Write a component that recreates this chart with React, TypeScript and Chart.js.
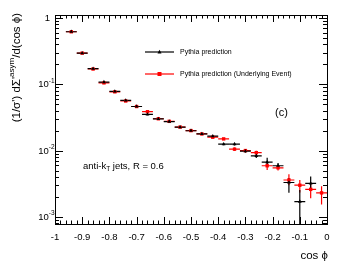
import React, { useEffect, useRef } from 'react';
import { Chart, registerables } from 'chart.js';

Chart.register(...registerables);

// ---------- data ----------
const cosPhi = [-0.94, -0.9, -0.86, -0.82, -0.78, -0.74, -0.7, -0.66, -0.62, -0.58, -0.54, -0.5,
  -0.46, -0.42, -0.38, -0.34, -0.3, -0.26, -0.22, -0.18, -0.14, -0.1, -0.06, -0.02];
const binHalfWidth = 0.02;

const pythia = [0.62, 0.295, 0.172, 0.108, 0.078, 0.057, 0.0462, 0.0352, 0.03, 0.0274, 0.0226, 0.0199,
  0.0178, 0.0165, 0.0125, 0.0125, 0.0098, 0.0083, 0.0067, 0.0059, 0.0033, 0.0017, 0.0032, null];
const pythiaErrLow = [0.012, 0.006, 0.004, 0.0025, 0.0015, 0.0012, 0.001, 0.0012, 0.0008, 0.0007, 0.0006, 0.0005,
  0.0005, 0.0005, 0.0005, 0.0006, 0.0005, 0.0006, 0.0008, 0.0006, 0.001, 0.0015, 0.00066, 0];
const pythiaErrHigh = [0.012, 0.006, 0.004, 0.0025, 0.0015, 0.0012, 0.001, 0.0012, 0.0008, 0.0007, 0.0006, 0.0005,
  0.0005, 0.0005, 0.0005, 0.0006, 0.0005, 0.0006, 0.0011, 0.0006, 0.00056, 0.00085, 0.00086, 0];

const pythiaUE = [0.62, 0.295, 0.17, 0.105, 0.077, 0.056, 0.0462, 0.0386, 0.0302, 0.0276, 0.0226, 0.02,
  0.0178, 0.0159, 0.015, 0.0105, 0.01, 0.0093, 0.0059, 0.0055, 0.0036, 0.003, 0.0026, 0.0023];
const pythiaUEErrLow = [0.012, 0.006, 0.004, 0.0025, 0.0015, 0.0012, 0.001, 0.0012, 0.0008, 0.0007, 0.0006, 0.0005,
  0.0005, 0.0005, 0.0005, 0.0006, 0.0005, 0.0006, 0.0008, 0.0005, 0.00059, 0.00066, 0.0007, 0.00077];
const pythiaUEErrHigh = [0.012, 0.006, 0.004, 0.0025, 0.0015, 0.0012, 0.001, 0.0012, 0.0008, 0.0007, 0.0006, 0.0005,
  0.0005, 0.0005, 0.0005, 0.0006, 0.0005, 0.0006, 0.0007, 0.0005, 0.0008, 0.0006, 0.0007, 0.00059];

const xMajorTicks = [-1, -0.9, -0.8, -0.7, -0.6, -0.5, -0.4, -0.3, -0.2, -0.1, 0];
const xTickLabels = ['-1', '-0.9', '-0.8', '-0.7', '-0.6', '-0.5', '-0.4', '-0.3', '-0.2', '-0.1', '0'];
const yDecades = [1, 0.1, 0.01, 0.001];
const yTickBases = ['1', '10', '10', '10'];
const yTickExps = ['', '-1', '-2', '-3'];

const seriesLabels = ['Pythia prediction', 'Pythia prediction (Underlying Event)'];
const seriesColors = ['#000000', '#ff0000'];
const xTitle = 'cos \u03d5';
const yTitleParts = ["(1/\u03c3') d\u03a3'", 'asym', '/d(cos \u03d5)'];
const panelLabel = '(c)';
const jetLabelParts = ['anti-k', 'T', ' jets, R = 0.6'];

const FONT = 'Liberation Sans, Arial, Helvetica, sans-serif';

function drawErrors(chart: any, vals: any[], lo: number[], hi: number[], color: string) {
  const { ctx, scales } = chart;
  const x = scales.x, y = scales.y;
  ctx.strokeStyle = color;
  ctx.lineWidth = 1.2;
  for (let i = 0; i < cosPhi.length; i++) {
    const v = vals[i];
    if (v == null) continue;
    const px = x.getPixelForValue(cosPhi[i]);
    const py = y.getPixelForValue(v);
    const x0 = x.getPixelForValue(cosPhi[i] - binHalfWidth);
    const x1 = x.getPixelForValue(cosPhi[i] + binHalfWidth);
    const lowV = Math.max(v - lo[i], 1e-6);
    const y0 = y.getPixelForValue(lowV);
    const y1 = y.getPixelForValue(v + hi[i]);
    ctx.beginPath();
    ctx.moveTo(x0, py); ctx.lineTo(x1, py);
    ctx.moveTo(px, y0); ctx.lineTo(px, y1);
    ctx.stroke();
  }
}

const rootPlugin = {
  id: 'rootStyle',
  beforeDatasetsDraw(chart: any) {
    const { ctx, chartArea: a } = chart;
    ctx.save();
    ctx.beginPath();
    ctx.rect(a.left, a.top, a.right - a.left, a.bottom - a.top);
    ctx.clip();
    drawErrors(chart, pythiaUE, pythiaUEErrLow, pythiaUEErrHigh, seriesColors[1]);
    drawErrors(chart, pythia, pythiaErrLow, pythiaErrHigh, seriesColors[0]);
    ctx.restore();
  },
  afterDraw(chart: any) {
    const { ctx, chartArea: a, scales } = chart;
    const x = scales.x, y = scales.y;
    ctx.save();
    ctx.strokeStyle = '#000';
    ctx.fillStyle = '#000';
    ctx.lineWidth = 1;
    // frame
    ctx.strokeRect(Math.round(a.left) + 0.5, Math.round(a.top) + 0.5, Math.round(a.right - a.left), Math.round(a.bottom - a.top));
    // x ticks
    ctx.beginPath();
    for (let k = 0; k <= 50; k++) {
      const v = -1 + k * 0.02;
      const px = Math.round(x.getPixelForValue(v)) + 0.5;
      const len = k % 5 === 0 ? 7 : 3.5;
      ctx.moveTo(px, a.bottom); ctx.lineTo(px, a.bottom - len);
      ctx.moveTo(px, a.top); ctx.lineTo(px, a.top + len);
    }
    // y ticks (log)
    for (let e = -4; e <= 0; e++) {
      for (let m = 1; m <= 9; m++) {
        const v = m * Math.pow(10, e);
        if (v < y.min || v > y.max) continue;
        const py = Math.round(y.getPixelForValue(v)) + 0.5;
        const len = m === 1 ? 8 : 4;
        ctx.moveTo(a.left, py); ctx.lineTo(a.left + len, py);
        ctx.moveTo(a.right, py); ctx.lineTo(a.right - len, py);
      }
    }
    ctx.stroke();

    // x tick labels
    ctx.font = `9.5px ${FONT}`;
    ctx.textAlign = 'center';
    ctx.textBaseline = 'middle';
    xMajorTicks.forEach((v, i) => {
      ctx.fillText(xTickLabels[i], x.getPixelForValue(v), a.bottom + 13.5);
    });

    // y tick labels
    ctx.textBaseline = 'middle';
    ctx.textAlign = 'left';
    yDecades.forEach((v, i) => {
      const py = y.getPixelForValue(v);
      ctx.font = `9.5px ${FONT}`;
      const wb = ctx.measureText(yTickBases[i]).width;
      ctx.font = `6.5px ${FONT}`;
      const we = yTickExps[i] ? ctx.measureText(yTickExps[i]).width : 0;
      const right = i === 0 ? 50 : 54.5;
      const start = right - wb - we;
      ctx.font = `9.5px ${FONT}`;
      ctx.fillText(yTickBases[i], start, py + 0.5);
      if (yTickExps[i]) {
        ctx.font = `6.5px ${FONT}`;
        ctx.fillText(yTickExps[i], start + wb, py - 3.5);
      }
    });

    // x title
    ctx.font = `11.5px ${FONT}`;
    ctx.textAlign = 'right';
    ctx.textBaseline = 'alphabetic';
    ctx.fillText(xTitle, a.right + 1, 259);

    // y title (rotated)
    ctx.save();
    ctx.translate(19.5, 13);
    ctx.rotate(-Math.PI / 2);
    ctx.textAlign = 'left';
    ctx.textBaseline = 'alphabetic';
    ctx.font = `11.5px ${FONT}`;
    const w0 = ctx.measureText(yTitleParts[0]).width;
    const w2 = ctx.measureText(yTitleParts[2]).width;
    ctx.font = `8px ${FONT}`;
    const w1 = ctx.measureText(yTitleParts[1]).width;
    let sx = -(w0 + w1 + w2);
    ctx.font = `11.5px ${FONT}`;
    ctx.fillText(yTitleParts[0], sx, 0);
    sx += w0;
    ctx.font = `8px ${FONT}`;
    ctx.fillText(yTitleParts[1], sx, -6);
    sx += w1;
    ctx.font = `11.5px ${FONT}`;
    ctx.fillText(yTitleParts[2], sx, 0);
    ctx.restore();

    // legend
    const legY = [52, 74];
    ctx.lineWidth = 1.2;
    seriesLabels.forEach((lab, i) => {
      ctx.strokeStyle = seriesColors[i];
      ctx.fillStyle = seriesColors[i];
      ctx.beginPath();
      ctx.moveTo(145, legY[i]); ctx.lineTo(174, legY[i]);
      ctx.stroke();
      const cx = 159.5, cy = legY[i];
      if (i === 0) {
        ctx.beginPath();
        ctx.moveTo(cx, cy - 2.2); ctx.lineTo(cx + 2, cy + 1.5); ctx.lineTo(cx - 2, cy + 1.5);
        ctx.closePath(); ctx.fill();
      } else {
        ctx.fillRect(cx - 2, cy - 2, 4, 4);
      }
      ctx.fillStyle = '#000';
      ctx.font = `7px ${FONT}`;
      ctx.textAlign = 'left';
      ctx.textBaseline = 'middle';
      ctx.fillText(lab, 180, legY[i] + 0.5);
    });

    // panel label
    ctx.fillStyle = '#000';
    ctx.font = `11px ${FONT}`;
    ctx.textAlign = 'left';
    ctx.textBaseline = 'middle';
    ctx.fillText(panelLabel, 275, 113);

    // jet label
    ctx.font = `9.5px ${FONT}`;
    ctx.textBaseline = 'middle';
    let jx = 83;
    const jy = 166.5;
    ctx.fillText(jetLabelParts[0], jx, jy);
    jx += ctx.measureText(jetLabelParts[0]).width;
    ctx.font = `6.5px ${FONT}`;
    ctx.fillText(jetLabelParts[1], jx, jy + 3);
    jx += ctx.measureText(jetLabelParts[1]).width;
    ctx.font = `9.5px ${FONT}`;
    ctx.fillText(jetLabelParts[2], jx, jy);
    ctx.restore();
  },
};

export default function App() {
  const canvasRef = useRef<HTMLCanvasElement>(null);
  useEffect(() => {
    const canvas = canvasRef.current;
    if (!canvas) return;
    const mk = (vals: any[]) => cosPhi.map((c, i) => ({ x: c, y: vals[i] })).filter((p) => p.y != null);
    const chart = new Chart(canvas, {
      type: 'scatter',
      data: {
        datasets: [
          {
            label: seriesLabels[0],
            data: mk(pythia),
            backgroundColor: seriesColors[0],
            borderColor: seriesColors[0],
            pointStyle: 'triangle',
            pointRadius: 2.2,
            borderWidth: 0,
            showLine: false,
            order: 0,
          },
          {
            label: seriesLabels[1],
            data: mk(pythiaUE),
            backgroundColor: seriesColors[1],
            borderColor: seriesColors[1],
            pointStyle: 'rect',
            pointRadius: 2.4,
            borderWidth: 0,
            showLine: false,
            order: 1,
          },
        ],
      },
      options: {
        responsive: false,
        animation: false,
        devicePixelRatio: 1,
        layout: { padding: { left: 55, right: 20, top: 15, bottom: 45 } },
        scales: {
          x: { type: 'linear', min: -1, max: 0, display: false },
          y: { type: 'logarithmic', min: 0.00078, max: 1.11, display: false },
        },
        plugins: {
          legend: { display: false },
          tooltip: { enabled: false },
        },
      },
      plugins: [rootPlugin],
    });
    return () => chart.destroy();
  }, []);
  return (
    <div style={{ position: 'absolute', left: 0, top: 0, width: 347, height: 269, background: '#fff' }}>
      <canvas ref={canvasRef} width={347} height={269} />
    </div>
  );
}
